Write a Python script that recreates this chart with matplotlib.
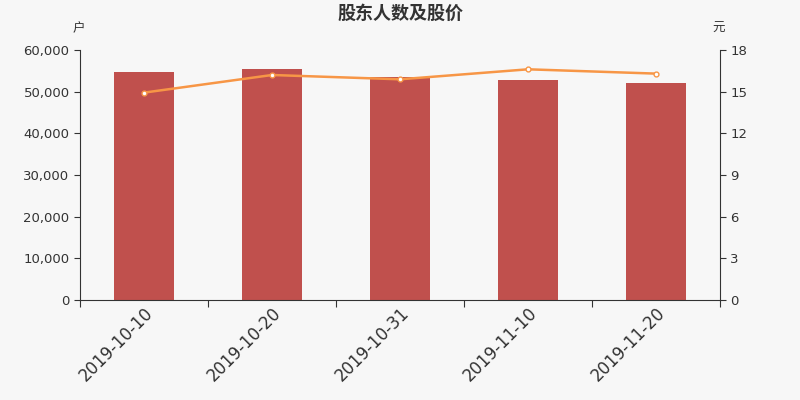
import matplotlib.pyplot as plt
import numpy as np

plt.rcParams['font.family'] = ['DejaVu Sans', 'Noto Sans CJK SC']

dates = ["2019-10-10", "2019-10-20", "2019-10-31", "2019-11-10", "2019-11-20"]
holders = [54800, 55400, 53500, 52900, 52000]
price = [14.93, 16.20, 15.89, 16.61, 16.30]

bg = "#f7f7f7"
txt = "#333333"

fig = plt.figure(figsize=(8, 4), dpi=100, facecolor=bg)
ax = fig.add_axes([0.1, 0.25, 0.8, 0.625], facecolor=bg)
ax2 = ax.twinx()

x = np.arange(len(dates))
ax.bar(x, holders, width=0.47, color="#c0504d", zorder=2)
ax2.plot(x, price, color="#f79646", lw=1.8, marker="o", ms=3.5,
         mfc="white", mec="#f79646", mew=1, zorder=3)

ax.set_xlim(-0.5, len(dates) - 0.5)
ax.set_ylim(0, 60000)
ax.set_yticks(range(0, 60001, 10000))
ax.set_yticklabels([f"{v:,}" for v in range(0, 60001, 10000)])
ax2.set_ylim(0, 18)
ax2.set_yticks(range(0, 19, 3))

# ticks between categories, labels at centres
ax.set_xticks(np.arange(len(dates) + 1) - 0.5)
ax.set_xticklabels([])
ax.set_xticks(x, minor=True)
ax.set_xticklabels(dates, minor=True, rotation=45, ha="right",
                   rotation_mode="anchor", fontsize=12, color=txt)
ax.tick_params(axis="x", which="minor", length=0, pad=3)
ax.tick_params(axis="x", which="major", length=5, color=txt)

for a in (ax, ax2):
    for s in a.spines.values():
        s.set_visible(False)
    a.tick_params(axis="y", labelsize=9.5, colors=txt, length=4)
ax.spines["left"].set_visible(True)
ax.spines["bottom"].set_visible(True)
ax2.spines["right"].set_visible(True)
for s in (ax.spines["left"], ax.spines["bottom"], ax2.spines["right"]):
    s.set_color(txt)

fig.text(0.5, 0.965, "股东人数及股价", ha="center", va="center",
         fontsize=13, fontweight="bold", color=txt)
fig.text(0.098, 0.928, "户", ha="center", va="center", fontsize=9, color=txt)
fig.text(0.898, 0.928, "元", ha="center", va="center", fontsize=9, color=txt)

fig.savefig("out.png", dpi=100, facecolor=bg)
